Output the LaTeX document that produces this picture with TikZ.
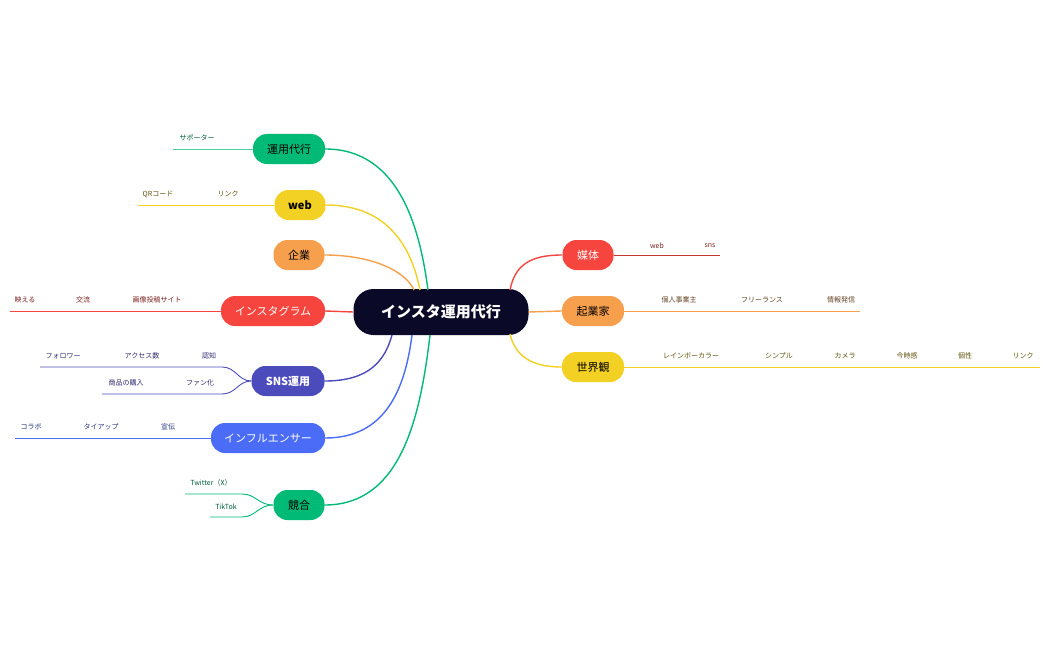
\documentclass[tikz,border=0pt]{standalone}
\usepackage{fontspec}
\setmainfont{Noto Sans CJK JP}
\definecolor{cg}{HTML}{00BA75}
\definecolor{cy}{HTML}{F2D024}
\definecolor{co}{HTML}{F6A04D}
\definecolor{cr}{HTML}{F5453E}
\definecolor{cp}{HTML}{4C4BBC}
\definecolor{cb}{HTML}{4A6CF7}
\definecolor{croot}{HTML}{0A0A28}
\begin{document}
\begin{tikzpicture}[x=1pt,y=-1pt,
 br/.style={rounded corners=14pt,minimum height=30pt,inner sep=0pt,font=\fontsize{11}{12}\selectfont},
 lf/.style={font=\fontsize{7}{8}\selectfont,inner sep=0pt},
 cn/.style={line width=1.4pt},
 ln/.style={line width=0.9pt}]
\useasboundingbox (0,0) rectangle (1049,650);
% root
\node[fill=croot,text=white,rounded corners=20pt,minimum width=175pt,minimum height=46pt,font=\fontsize{15}{16}\selectfont\bfseries] (root) at (441,312) {インスタ運用代行};
% left branches
\node[br,fill=cg,minimum width=72pt] (a1) at (289,149) {運用代行};
\node[br,fill=cy,minimum width=51pt,font=\fontsize{11}{12}\selectfont\bfseries] (a2) at (300,205) {web};
\node[br,fill=co,minimum width=51pt] (a3) at (299,255) {企業};
\node[br,fill=cr,text=white,minimum width=104pt] (a4) at (273,311) {インスタグラム};
\node[br,fill=cp,text=white,minimum width=73pt,font=\fontsize{11}{12}\selectfont\bfseries] (a5) at (288,381) {SNS運用};
\node[br,fill=cb,text=white,minimum width=114pt] (a6) at (268,438) {インフルエンサー};
\node[br,fill=cg,minimum width=51pt] (a7) at (299,505) {競合};
% right branches
\node[br,fill=cr,text=white,minimum width=51pt] (b1) at (588,255) {媒体};
\node[br,fill=co,minimum width=62pt] (b2) at (593,311) {起業家};
\node[br,fill=cy,minimum width=62pt] (b3) at (593,367) {世界観};
\coordinate (r1) at (428,290); \coordinate (r2) at (420,290); \coordinate (r3) at (414,290);
\coordinate (r5) at (392,335); \coordinate (r6) at (412,335); \coordinate (r7) at (430,335);
\coordinate (q1) at (510,290); \coordinate (q3) at (510,334);
% connectors
\begin{scope}[on background layer/.style={}]
\draw[cn,cg] (a1.east) .. controls (400,149) and (420,230) .. (r1);
\draw[cn,cy] (a2.east) .. controls (390,205) and (412,250) .. (r2);
\draw[cn,co] (a3.east) .. controls (370,255) and (405,270) .. (r3);
\draw[cn,cr] (a4.east) -- (root.west);
\draw[cn,cp] (a5.east) .. controls (370,381) and (385,360) .. (r5);
\draw[cn,cb] (a6.east) .. controls (385,438) and (405,390) .. (r6);
\draw[cn,cg] (a7.east) .. controls (400,505) and (420,420) .. (r7);
\draw[cn,cr] (b1.west) .. controls (530,255) and (515,265) .. (q1);
\draw[cn,co] (b2.west) -- (root.east);
\draw[cn,cy] (b3.west) .. controls (530,367) and (515,355) .. (q3);
\end{scope}
% leaf lines
\coordinate (e1) at (173,149); \coordinate (e2) at (138,205); \coordinate (e4) at (10,311);
\coordinate (e5a) at (40,367); \coordinate (e5b) at (102,394); \coordinate (e6) at (15,438);
\coordinate (e7a) at (185,494); \coordinate (e7b) at (210,517);
\coordinate (f1) at (720,255); \coordinate (f2) at (860,311); \coordinate (f3) at (1040,367);
\draw[ln,cg!70] (a1.west) -- (e1);
\draw[ln,cy] (a2.west) -- (e2);
\draw[ln,cr] (a4.west) -- (e4);
\draw[ln,cp] (a5.west) .. controls (238,381) and (236,367) .. (222,367) -- (e5a);
\draw[ln,cp] (a5.west) .. controls (238,381) and (236,394) .. (222,394) -- (e5b);
\draw[ln,cb] (a6.west) -- (e6);
\draw[ln,cg] (a7.west) .. controls (258,505) and (256,494) .. (242,494) -- (e7a);
\draw[ln,cg] (a7.west) .. controls (258,505) and (256,517) .. (242,517) -- (e7b);
\draw[ln,cr!80!black] (b1.east) -- (f1);
\draw[ln,co] (b2.east) -- (f2);
\draw[ln,cy] (b3.east) -- (f3);
% labels
\node[lf,text=cg!50!black] (l11) at (197,138) {サポーター};
\node[lf,text=cy!40!black] (l21) at (158,194) {QRコード};
\node[lf,text=cy!40!black] (l22) at (228,194) {リンク};
\node[lf,text=cr!50!black] (l41) at (25,300) {映える};
\node[lf,text=cr!50!black] (l42) at (83,300) {交流};
\node[lf,text=cr!50!black] (l43) at (157,300) {画像投稿サイト};
\node[lf,text=cp!60!black] (l51) at (63,356) {フォロワー};
\node[lf,text=cp!60!black] (l52) at (142,356) {アクセス数};
\node[lf,text=cp!60!black] (l53) at (209,356) {認知};
\node[lf,text=cp!60!black] (l54) at (126,383) {商品の購入};
\node[lf,text=cp!60!black] (l55) at (200,383) {ファン化};
\node[lf,text=cb!50!black] (l61) at (31,427) {コラボ};
\node[lf,text=cb!50!black] (l62) at (101,427) {タイアップ};
\node[lf,text=cb!50!black] (l63) at (168,427) {宣伝};
\node[lf,text=cg!50!black] (l71) at (211,483) {Twitter（X）};
\node[lf,text=cg!50!black] (l72) at (226,507) {TikTok};
\node[lf,text=cr!50!black] (m11) at (657,246) {web};
\node[lf,text=cr!50!black] (m12) at (710,246) {sns};
\node[lf,text=co!40!black] (m21) at (679,300) {個人事業主};
\node[lf,text=co!40!black] (m22) at (762,300) {フリーランス};
\node[lf,text=co!40!black] (m23) at (841,300) {情報発信};
\node[lf,text=cy!40!black] (m31) at (691,356) {レインボーカラー};
\node[lf,text=cy!40!black] (m32) at (779,356) {シンプル};
\node[lf,text=cy!40!black] (m33) at (845,356) {カメラ};
\node[lf,text=cy!40!black] (m34) at (907,356) {今時感};
\node[lf,text=cy!40!black] (m35) at (965,356) {個性};
\node[lf,text=cy!40!black] (m36) at (1023,356) {リンク};
\end{tikzpicture}
\end{document}
